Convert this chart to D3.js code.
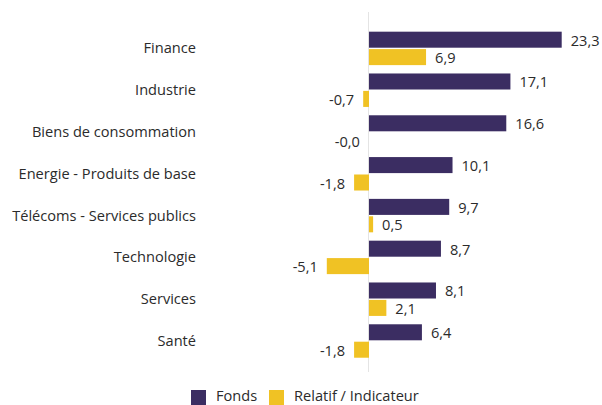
<!DOCTYPE html>
<html>
<head>
<meta charset="utf-8">
<script src="https://cdn.jsdelivr.net/npm/d3@7"></script>
<style>
  body { margin: 0; background: #fff; }
  svg text { font-family: "Open Sans", "Liberation Sans", sans-serif; fill: #2b2b2b; }
</style>
</head>
<body>
<div id="chart"></div>
<script>
// secteurs et valeurs
const categories = ["Finance", "Industrie", "Biens de consommation", "Energie - Produits de base",
  "Télécoms - Services publics", "Technologie", "Services", "Santé"];
const fonds = [23.3, 17.1, 16.6, 10.1, 9.7, 8.7, 8.1, 6.4];
const relatif = [6.9, -0.7, -0.0, -1.8, 0.5, -5.1, 2.1, -1.8];
const seriesNames = ["Fonds", "Relatif / Indicateur"];
const colors = ["#3b2d62", "#f0c224"];

const width = 602, height = 405;

const svg = d3.select("#chart")
  .append("svg")
  .attr("width", width)
  .attr("height", height);

const scaleX = d3.scaleLinear()
  .domain([-5.1, 23.3])
  .range([326.8, 561.7]);

const scaleY = d3.scaleBand()
  .domain(categories)
  .range([27.5, 361.9])
  .paddingInner(0.2)
  .paddingOuter(0.1);

const scaleSeries = d3.scaleBand()
  .domain(seriesNames)
  .range([0, scaleY.bandwidth()])
  .paddingInner(0.08);

function fmt(v) {
  const neg = v < 0 || Object.is(v, -0);
  return (neg ? "-" : "") + d3.format(".1f")(Math.abs(v)).replace(".", ",");
}

// ligne du zéro
svg.append("line")
  .attr("x1", scaleX(0) - 0.5).attr("x2", scaleX(0) - 0.5)
  .attr("y1", 12).attr("y2", 372)
  .attr("stroke", "#e4e4e4")
  .attr("stroke-width", 1);

const rows = categories.map(function (c, i) {
  return { cat: c, values: [fonds[i], relatif[i]] };
});

const groups = svg.selectAll("g.row")
  .data(rows)
  .enter()
  .append("g")
  .attr("class", "row")
  .attr("transform", function (d) { return `translate(0,${scaleY(d.cat)})`; });

groups.append("text")
  .attr("x", 196)
  .attr("y", scaleY.bandwidth() / 2 - 1)
  .attr("text-anchor", "end")
  .attr("dominant-baseline", "central")
  .attr("font-size", "14.6px")
  .text(function (d) { return d.cat; });

const bars = groups.selectAll("g.bar")
  .data(function (d) {
    return d.values.map(function (v, j) { return { v: v, s: seriesNames[j], j: j }; });
  })
  .enter()
  .append("g")
  .attr("class", "bar");

bars.append("rect")
  .attr("x", function (d) { return Math.min(scaleX(0), scaleX(d.v)); })
  .attr("y", function (d) { return scaleSeries(d.s); })
  .attr("width", function (d) { return Math.abs(scaleX(d.v) - scaleX(0)); })
  .attr("height", scaleSeries.bandwidth())
  .attr("fill", function (d) { return colors[d.j]; });

bars.append("text")
  .attr("x", function (d) {
    const neg = d.v < 0 || Object.is(d.v, -0);
    return neg ? scaleX(d.v) - 9 : scaleX(d.v) + 9;
  })
  .attr("y", function (d) { return scaleSeries(d.s) + scaleSeries.bandwidth() / 2; })
  .attr("text-anchor", function (d) { return (d.v < 0 || Object.is(d.v, -0)) ? "end" : "start"; })
  .attr("dominant-baseline", "central")
  .attr("font-size", "14.6px")
  .text(function (d) { return fmt(d.v); });

// légende
const legendX = [191, 269];
const legend = svg.selectAll("g.legend")
  .data(seriesNames)
  .enter()
  .append("g")
  .attr("class", "legend")
  .attr("transform", function (d, i) { return `translate(${legendX[i]},390)`; });

legend.append("rect")
  .attr("width", 15).attr("height", 15)
  .attr("fill", function (d, i) { return colors[i]; });

legend.append("text")
  .attr("x", 25)
  .attr("y", 5)
  .attr("dominant-baseline", "central")
  .attr("font-size", "14.6px")
  .text(function (d) { return d; });
</script>
</body>
</html>
